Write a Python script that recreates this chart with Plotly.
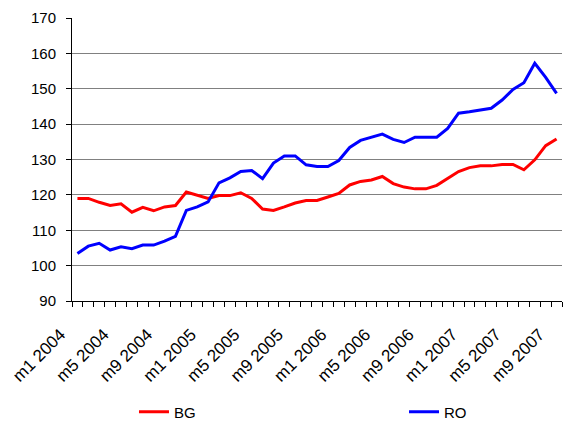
import plotly.graph_objects as go

# Monthly index values, January 2004 - September 2007
months = [f"m{m} {y}" for y in range(2004, 2008) for m in range(1, 13)][:45]

bg = [119.0, 119.0, 117.9, 117.0, 117.5, 115.1, 116.5, 115.5, 116.6, 117.0,
      120.8, 120.0, 119.0, 119.8, 119.8, 120.6, 119.0, 116.0, 115.6, 116.6,
      117.7, 118.4, 118.4, 119.4, 120.4, 122.8, 123.8, 124.2, 125.2, 123.2,
      122.2, 121.7, 121.7, 122.7, 124.6, 126.6, 127.7, 128.2, 128.2, 128.6,
      128.6, 127.1, 129.9, 133.9, 135.8]

ro = [103.4, 105.5, 106.3, 104.4, 105.3, 104.8, 105.8, 105.8, 106.9, 108.3,
      115.6, 116.6, 118.0, 123.4, 124.8, 126.6, 126.9, 124.6, 129.0, 131.0,
      131.0, 128.5, 128.0, 128.0, 129.7, 133.4, 135.4, 136.2, 137.2, 135.7,
      134.8, 136.3, 136.3, 136.3, 138.8, 143.1, 143.5, 144.0, 144.5, 146.8,
      149.8, 151.7, 157.2, 153.2, 148.7]

tick_labels = months[::4]

x = list(range(len(months)))
tick_pos = x[::4]

fig = go.Figure()
fig.add_trace(go.Scatter(x=x, y=bg, name="BG", mode="lines", legend="legend",
                         line=dict(color="#ff0000", width=3)))
fig.add_trace(go.Scatter(x=x, y=ro, name="RO", mode="lines", legend="legend2",
                         line=dict(color="#0000ff", width=3)))

family = "Liberation Sans, Arial, sans-serif"
font = dict(family=family, size=15, color="black")
legend_style = dict(orientation="h", xanchor="left", y=-0.392, yanchor="middle",
                    font=font, bgcolor="rgba(0,0,0,0)")

fig.update_layout(
    width=564, height=423,
    margin=dict(l=72, r=2, t=18, b=122, autoexpand=False),
    paper_bgcolor="white", plot_bgcolor="white",
    font=font,
    showlegend=True,
    legend=dict(x=0.1265, **legend_style),
    legend2=dict(x=0.6776, **legend_style),
    xaxis=dict(
        range=[-0.5, len(months) - 0.5], automargin=False,
        tickmode="array", tickvals=tick_pos, ticktext=tick_labels,
        tickangle=-45, ticks="outside", ticklen=5,
        tickcolor="rgba(0,0,0,0)", ticklabelstandoff=11, ticklabelshift=-17,
        ticklabeloverflow="allow",
        tickfont=dict(family=family, size=17, color="black"),
        showgrid=False, zeroline=False,
        showline=True, linecolor="black", linewidth=1,
        minor=dict(tick0=-0.5, dtick=1, ticks="outside", ticklen=5,
                   tickcolor="black", showgrid=False),
    ),
    yaxis=dict(
        range=[90, 170], dtick=10, automargin=False,
        ticks="outside", ticklen=5, tickcolor="black", ticklabelstandoff=7,
        showgrid=True, gridcolor="#808080", gridwidth=1,
        zeroline=False,
        showline=True, linecolor="black", linewidth=1,
    ),
)

fig.write_html("out.html")
